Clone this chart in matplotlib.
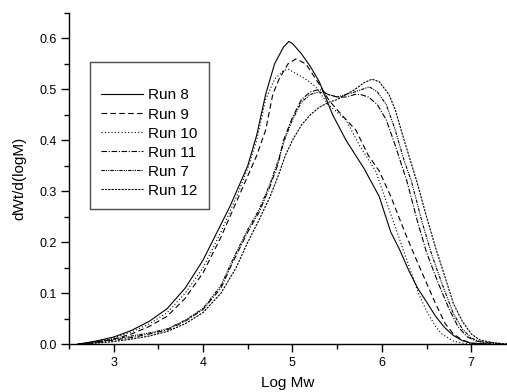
import numpy as np
import matplotlib
matplotlib.use("Agg")
import matplotlib.pyplot as plt
from matplotlib.ticker import MultipleLocator

plt.rcParams['font.family'] = ['Liberation Sans', 'DejaVu Sans']

# 読み取ったデータ (Log Mw, dWt/d(logM))
run8_x = [2.6, 2.8, 3.0, 3.2, 3.4, 3.6, 3.8, 4.0, 4.1, 4.2, 4.3, 4.4, 4.5, 4.6, 4.7, 4.8, 4.9, 4.96,
          5.0, 5.1, 5.2, 5.3, 5.45, 5.6, 5.8, 5.97, 6.1, 6.2, 6.3, 6.4, 6.5, 6.6, 6.7, 6.8, 6.9, 7.0, 7.2]
run8_y = [0.0, 0.006, 0.014, 0.027, 0.045, 0.07, 0.11, 0.165, 0.2, 0.235, 0.27, 0.31, 0.35, 0.41, 0.49, 0.55, 0.583, 0.594,
          0.59, 0.57, 0.545, 0.515, 0.45, 0.4, 0.345, 0.29, 0.22, 0.185, 0.145, 0.11, 0.083, 0.055, 0.033, 0.017, 0.007, 0.002, 0.0]

run9_x = [2.6, 2.8, 3.0, 3.2, 3.4, 3.6, 3.8, 4.0, 4.1, 4.2, 4.3, 4.4, 4.5, 4.6, 4.7, 4.78, 4.85, 4.95, 5.04,
          5.15, 5.3, 5.41, 5.55, 5.71, 5.85, 5.97, 6.1, 6.2, 6.28, 6.4, 6.52, 6.6, 6.71, 6.8, 6.9, 7.0, 7.2]
run9_y = [0.0, 0.004, 0.01, 0.02, 0.035, 0.055, 0.09, 0.14, 0.175, 0.21, 0.25, 0.29, 0.33, 0.37, 0.42, 0.49, 0.52, 0.55, 0.56,
          0.55, 0.51, 0.478, 0.45, 0.42, 0.37, 0.34, 0.29, 0.245, 0.21, 0.16, 0.112, 0.08, 0.04, 0.02, 0.008, 0.002, 0.0]

run10_x = [2.6, 2.8, 3.0, 3.2, 3.4, 3.6, 3.8, 4.0, 4.1, 4.2, 4.3, 4.4, 4.5, 4.6, 4.7, 4.8, 4.9, 4.95,
           5.05, 5.15, 5.26, 5.4, 5.6, 5.75, 5.93, 6.05, 6.15, 6.25, 6.35, 6.41, 6.5, 6.6, 6.67, 6.8, 6.9, 7.0]
run10_y = [0.0, 0.005, 0.012, 0.024, 0.04, 0.062, 0.1, 0.15, 0.185, 0.22, 0.26, 0.3, 0.345, 0.4, 0.48, 0.52, 0.537, 0.54,
           0.53, 0.52, 0.505, 0.47, 0.44, 0.39, 0.34, 0.28, 0.23, 0.18, 0.13, 0.1, 0.065, 0.035, 0.02, 0.006, 0.002, 0.0]

run11_x = [2.6, 2.8, 3.0, 3.2, 3.4, 3.6, 3.8, 4.0, 4.2, 4.33, 4.5, 4.63, 4.75, 4.84, 4.9, 5.0, 5.1, 5.2, 5.3,
           5.4, 5.5, 5.6, 5.7, 5.76, 5.85, 5.95, 6.05, 6.15, 6.28, 6.4, 6.5, 6.63, 6.75, 6.85, 6.95, 7.05, 7.2, 7.4]
run11_y = [0.0, 0.003, 0.008, 0.013, 0.02, 0.028, 0.045, 0.068, 0.11, 0.16, 0.22, 0.26, 0.31, 0.354, 0.4, 0.445, 0.48, 0.495, 0.5,
           0.49, 0.485, 0.485, 0.49, 0.49, 0.485, 0.47, 0.44, 0.39, 0.32, 0.24, 0.18, 0.12, 0.07, 0.035, 0.015, 0.006, 0.002, 0.0]

run7_x = [2.6, 2.8, 3.0, 3.2, 3.4, 3.6, 3.8, 4.0, 4.2, 4.33, 4.5, 4.63, 4.75, 4.84, 4.92, 5.0, 5.1, 5.2, 5.3,
          5.4, 5.5, 5.6, 5.7, 5.86, 5.95, 6.05, 6.15, 6.25, 6.33, 6.45, 6.55, 6.67, 6.8, 6.9, 7.0, 7.1, 7.3, 7.4]
run7_y = [0.0, 0.004, 0.01, 0.016, 0.022, 0.03, 0.047, 0.07, 0.115, 0.165, 0.225, 0.265, 0.315, 0.36, 0.405, 0.44, 0.475, 0.49, 0.495,
          0.49, 0.485, 0.49, 0.495, 0.505, 0.495, 0.47, 0.42, 0.36, 0.32, 0.24, 0.18, 0.12, 0.06, 0.03, 0.012, 0.005, 0.001, 0.0]

run12_x = [2.6, 2.8, 3.0, 3.2, 3.4, 3.6, 3.8, 4.0, 4.2, 4.37, 4.5, 4.63, 4.75, 4.84, 4.92, 5.0, 5.1, 5.2, 5.3,
           5.41, 5.5, 5.6, 5.7, 5.8, 5.89, 5.97, 6.08, 6.15, 6.25, 6.39, 6.5, 6.6, 6.71, 6.8, 6.9, 7.0, 7.1, 7.25, 7.4]
run12_y = [0.0, 0.002, 0.005, 0.01, 0.016, 0.025, 0.04, 0.062, 0.1, 0.15, 0.2, 0.245, 0.29, 0.33, 0.37, 0.4, 0.43, 0.45, 0.465,
           0.475, 0.48, 0.49, 0.5, 0.513, 0.52, 0.515, 0.49, 0.46, 0.4, 0.32, 0.25, 0.19, 0.13, 0.08, 0.045, 0.02, 0.008, 0.003, 0.0]

LABELS = ["Run 8", "Run 9", "Run 10", "Run 11", "Run 7", "Run 12"]
XS = [run8_x, run9_x, run10_x, run11_x, run7_x, run12_x]
YS = [run8_y, run9_y, run10_y, run11_y, run7_y, run12_y]
STYLES = ['-', (0, (5, 3)), (0, (1, 2)), (0, (5, 1.5, 1, 1.5)), (0, (3, 1, 1, 1, 1, 1)), (0, (2, 1))]

fig = plt.figure(figsize=(5.07, 3.92), dpi=100)
ax = fig.add_axes([0.136, 0.122, 0.864, 0.845])

for x, y, ls, lab in zip(XS, YS, STYLES, LABELS):
    ax.plot(x, y, color='black', linestyle=ls, linewidth=0.8, label=lab)

ax.set_xlim(2.5, 7.4)
ax.set_ylim(0, 0.65)
ax.xaxis.set_major_locator(MultipleLocator(1))
ax.xaxis.set_minor_locator(MultipleLocator(0.5))
ax.yaxis.set_minor_locator(MultipleLocator(0.05))
ax.set_yticks([0.0, 0.1, 0.2, 0.3, 0.4, 0.5, 0.6])
ax.set_yticklabels(["0.0", "0.1", "0.2", "0.3", "0.4", "0.5", "0.6"])

ax.spines['top'].set_visible(False)
ax.spines['right'].set_visible(False)
for s in ['left', 'bottom']:
    ax.spines[s].set_linewidth(1.0)
ax.tick_params(which='major', direction='out', length=5.5, width=1.0, labelsize=9)
ax.tick_params(which='minor', direction='out', length=3.5, width=1.0)

ax.set_xlabel("Log Mw", fontsize=11, labelpad=5)
ax.set_ylabel("dWt/d(logM)", fontsize=11, labelpad=9)

leg = ax.legend(loc='upper left', bbox_to_anchor=(0.048, 0.852), borderaxespad=0,
                fontsize=11, title=" ", title_fontsize=8, fancybox=False, framealpha=1,
                edgecolor='0.3', handlelength=2.75, handletextpad=0.33, labelspacing=0.33,
                borderpad=0.75)
leg.get_frame().set_linewidth(1.0)

fig.savefig("out.png", dpi=100)
